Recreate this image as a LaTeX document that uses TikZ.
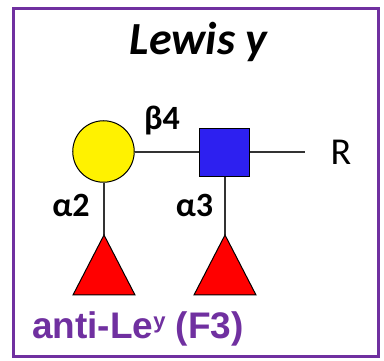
\documentclass[tikz,border=0pt]{standalone}
\usepackage{fontspec}
\setmainfont{Carlito}
\newfontfamily\arialb{Liberation Sans}
\definecolor{framepurple}{RGB}{112,48,160}
\definecolor{glcblue}{RGB}{45,32,240}
\usetikzlibrary{calc}
\tikzset{
  frame/.style={draw=framepurple,line width=3pt},
  link/.style={draw=black!80,line width=1.3pt},
  outline/.style={draw=black,line width=1pt},
  galnode/.style={outline,circle,fill=yellow,minimum size=61.5pt,inner sep=0pt},
  glcnode/.style={outline,rectangle,fill=glcblue,minimum width=50pt,minimum height=48pt,inner sep=0pt},
  fuc/.style={outline,fill=red},
  lbl/.style={font=\fontsize{34}{34}\selectfont\bfseries,anchor=base,inner sep=0pt},
}
\begin{document}
\begin{tikzpicture}[x=1pt,y=-1pt]
\useasboundingbox (0,0) rectangle (384,361);
\draw[frame] (13.5,9) rectangle (378.5,356.5);
\node[anchor=base,inner sep=0pt,font=\fontsize{46}{46}\selectfont\bfseries\itshape] (title) at (198.5,55) {Lewis y};
\node[galnode] (gal) at (103.5,151.5) {};
\node[glcnode] (glc) at (224.5,153) {};
\coordinate (rend) at (305,152);
\node[anchor=base,inner sep=0pt,font=\fontsize{38}{38}\selectfont] (R) at (341,165) {R};
\draw[link] (gal.east |- 0,152) -- (glc.west |- 0,152);
\draw[link] (glc.east |- 0,152) -- (rend);
\coordinate (f1) at (104,235);
\coordinate (f2) at (225,235);
\draw[link] (gal.south -| f1) -- (f1);
\draw[link] (glc.south -| f2) -- (f2);
\draw[fuc] (f1) -- ++(31,60) -- ++(-62,0) -- cycle;
\draw[fuc] (f2) -- ++(31,60) -- ++(-62,0) -- cycle;
\node[lbl] (b4) at (162,130) {β4};
\node[lbl] (a2) at (71,217) {α2};
\node[lbl] (a3) at (194.5,217) {α3};
\node[anchor=base west,inner sep=0pt,text=framepurple,font=\fontsize{37}{37}\selectfont\arialb\bfseries] (ab) at (32,339) {anti-Le{\fontsize{22}{22}\selectfont\raisebox{10pt}{y}} (F3)};
\end{tikzpicture}
\end{document}
